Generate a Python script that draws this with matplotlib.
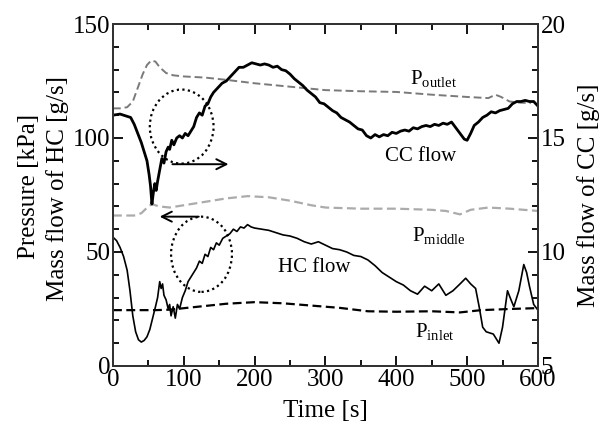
import matplotlib
matplotlib.use("Agg")
import matplotlib.pyplot as plt
from matplotlib.patches import Ellipse

plt.rcParams['font.family'] = ['Liberation Serif', 'DejaVu Serif']
plt.rcParams['mathtext.fontset'] = 'custom'
plt.rcParams['mathtext.rm'] = 'Liberation Serif'

# CC flow (right axis, g/s)
t_cc = [0, 10, 20, 25, 30, 35, 40, 45, 48, 51, 53, 55, 57, 59, 61, 63, 66, 69, 72, 75,
        78, 80, 83, 86, 90, 94, 98, 102, 106, 110, 114, 118, 122, 126, 130, 134, 138, 142,
        148, 154, 160, 166, 172, 178, 184, 190, 196, 202, 208, 214, 220, 226, 232, 238,
        244, 250, 256, 262, 268, 274, 280, 286, 292, 298, 304, 310, 316, 322, 328, 334,
        340, 346, 352, 358, 364, 370, 376, 382, 388, 394, 400, 406, 412, 418, 424, 430,
        436, 442, 448, 454, 460, 466, 472, 478, 484, 490, 496, 500, 505, 510, 516, 522,
        528, 534, 540, 546, 552, 558, 564, 570, 576, 582, 588, 594, 600]
cc_flow = [16.0, 16.05, 15.95, 15.9, 15.6, 15.2, 14.8, 14.3, 14.0, 13.4, 12.9, 12.1, 12.6,
           13.0, 12.7, 13.1, 13.6, 14.1, 13.9, 14.4, 14.6, 14.5, 14.9, 14.7, 15.0, 15.1,
           15.0, 15.2, 15.1, 15.3, 15.5, 15.9, 16.1, 16.0, 16.4, 16.5, 16.8, 17.0, 17.2,
           17.4, 17.5, 17.7, 17.9, 18.1, 18.1, 18.2, 18.3, 18.25, 18.2, 18.25, 18.2, 18.1,
           18.15, 18.0, 17.95, 17.8, 17.6, 17.45, 17.3, 17.1, 16.95, 16.8, 16.55, 16.5,
           16.35, 16.2, 16.1, 15.9, 15.8, 15.7, 15.55, 15.4, 15.35, 15.1, 15.0, 15.15,
           15.05, 15.15, 15.1, 15.25, 15.2, 15.3, 15.35, 15.3, 15.45, 15.4, 15.5, 15.55,
           15.5, 15.6, 15.55, 15.65, 15.6, 15.7, 15.45, 15.2, 14.95, 14.9, 15.2, 15.55,
           15.7, 15.9, 16.0, 16.15, 16.1, 16.2, 16.25, 16.3, 16.5, 16.6, 16.6, 16.65,
           16.6, 16.6, 16.4]

# HC flow (left axis scale)
t_hc = [0, 5, 10, 15, 20, 24, 28, 32, 36, 40, 44, 48, 52, 56, 60, 63, 66, 68, 70, 72, 75,
        78, 80, 82, 85, 88, 91, 94, 98, 102, 106, 110, 114, 118, 122, 126, 130, 134, 138,
        142, 146, 150, 155, 160, 165, 170, 175, 180, 185, 190, 195, 200, 210, 220, 230,
        240, 250, 260, 270, 280, 290, 300, 310, 320, 330, 340, 350, 360, 370, 380, 390,
        400, 410, 420, 430, 440, 450, 460, 470, 480, 490, 498, 505, 512, 517, 522, 527,
        532, 537, 541, 545, 550, 557, 562, 566, 573, 580, 584, 588, 594, 600]
hc_flow = [56.5, 55, 52, 48, 42, 33, 22, 15, 11.5, 10.5, 11.2, 12.8, 16, 21, 26, 30, 37,
           34, 36, 31, 29, 25, 27, 22, 26, 21, 27, 25, 30, 33, 37, 39, 41, 43, 46, 45, 49,
           48, 52, 51, 54, 53, 56, 57, 58, 60, 59, 61, 60.5, 62, 61, 60.5, 60, 59.5, 58.5,
           57.5, 57, 56, 54.5, 53.5, 54.5, 53, 51.5, 51, 50, 48.5, 48, 46.5, 44, 41, 39,
           37, 35.5, 33, 31.5, 35, 33, 36, 31, 33, 36, 38.5, 36, 34, 26, 17, 15, 14.5, 14,
           12, 10, 17, 33, 29, 26, 33, 44.5, 41, 35, 27, 24.5]

t_out = [0, 10, 20, 28, 35, 42, 48, 54, 60, 66, 75, 85, 100, 130, 160, 200, 250, 300,
         350, 400, 450, 500, 530, 540, 548, 560, 575, 590]
p_outlet = [113, 113, 113.5, 116, 122, 128, 132, 134, 133.5, 131, 128.5, 127.5, 127,
            126.5, 125.5, 124, 122.5, 121, 120.5, 120.2, 119, 118, 117.5, 119, 118, 116,
            115.5, 115.3]

t_mid = [0, 30, 40, 50, 55, 65, 80, 100, 130, 160, 190, 220, 250, 280, 300, 350, 400,
         450, 470, 490, 505, 530, 560, 600]
p_middle = [66, 66, 67, 70, 71, 70, 69.5, 70.5, 72, 73.5, 74.5, 74, 72.5, 70.5, 69.5, 69,
            69, 68.5, 68, 66.5, 68.5, 69.5, 69, 68]

t_in = [0, 60, 80, 120, 160, 200, 240, 280, 320, 360, 400, 450, 490, 520, 560, 600]
p_inlet = [24.5, 24.5, 24.7, 26, 27.3, 28, 27.5, 26.5, 25.5, 24, 23.8, 24, 23.5, 24.5,
           25, 25.4]

fig = plt.figure(figsize=(6.15, 4.34), dpi=100)
ax = fig.add_axes([0.1837, 0.1567, 0.691, 0.788])
ax2 = ax.twinx()

ax.plot(t_out, p_outlet, color='#7a7a7a', lw=1.4, ls=(0, (4, 2)))
ax.plot(t_mid, p_middle, color='#ababab', lw=1.6, ls=(0, (4, 2)))
ax.plot(t_in, p_inlet, color='black', lw=1.6, ls=(0, (4, 2)))
ax.plot(t_hc, hc_flow, color='black', lw=1.2)
ax2.plot(t_cc, cc_flow, color='black', lw=2.0)

ax.set_xlim(0, 600)
ax.set_ylim(0, 150)
ax2.set_ylim(5, 20)
ax.set_xticks([0, 100, 200, 300, 400, 500, 600])
ax.set_xticks(range(50, 600, 100), minor=True)
ax.set_yticks([0, 50, 100, 150])
ax.set_yticks(range(0, 151, 10), minor=True)
ax2.set_yticks([5, 10, 15, 20])
ax2.set_yticks(range(5, 21), minor=True)

ax.tick_params(which='both', direction='in', top=True, right=False, labelsize=18,
               pad=2, width=1.3)
ax.tick_params(which='major', length=7)
ax.tick_params(which='minor', length=4)
ax2.tick_params(which='both', direction='in', labelsize=18, pad=2, width=1.3)
ax2.tick_params(which='major', length=7)
ax2.tick_params(which='minor', length=4)
for a in (ax, ax2):
    for s in a.spines.values():
        s.set_linewidth(1.4)
        s.set_color('#333333')

# annotation circles and arrows
ax.add_patch(Ellipse((97, 105), 90, 32.5, fill=False, ls=(0, (1, 1.5)), lw=1.6,
                     color='black'))
ax.add_patch(Ellipse((125, 49), 86, 33, fill=False, ls=(0, (1, 1.5)), lw=1.6,
                     color='black'))
ax.annotate('', xy=(167, 88.5), xytext=(80, 88.5),
            arrowprops=dict(arrowstyle='->', lw=1.4, color='black', mutation_scale=18))
ax.annotate('', xy=(62, 65.5), xytext=(125, 65.5),
            arrowprops=dict(arrowstyle='->', lw=1.4, color='black', mutation_scale=18))

ax.text(420, 121, r'P$_{\mathrm{outlet}}$', fontsize=15, ha='left', va='bottom')
ax.text(434, 92, 'CC flow', fontsize=15, ha='center', va='center')
ax.text(422, 57, r'P$_{\mathrm{middle}}$', fontsize=15, ha='left', va='center')
ax.text(233, 43, 'HC flow', fontsize=15, ha='left', va='center')
ax.text(427, 15, r'P$_{\mathrm{inlet}}$', fontsize=15, ha='left', va='center')

ax.set_xlabel('Time [s]', fontsize=18, labelpad=7)
fig.text(0.047, 0.57, 'Pressure [kPa]', rotation=90, fontsize=18, ha='center',
         va='center')
fig.text(0.093, 0.565, 'Mass flow of HC [g/s]', rotation=90, fontsize=18, ha='center',
         va='center')
ax2.set_ylabel('Mass flow of CC [g/s]', fontsize=18, labelpad=8)

fig.savefig('out.png', dpi=100)
